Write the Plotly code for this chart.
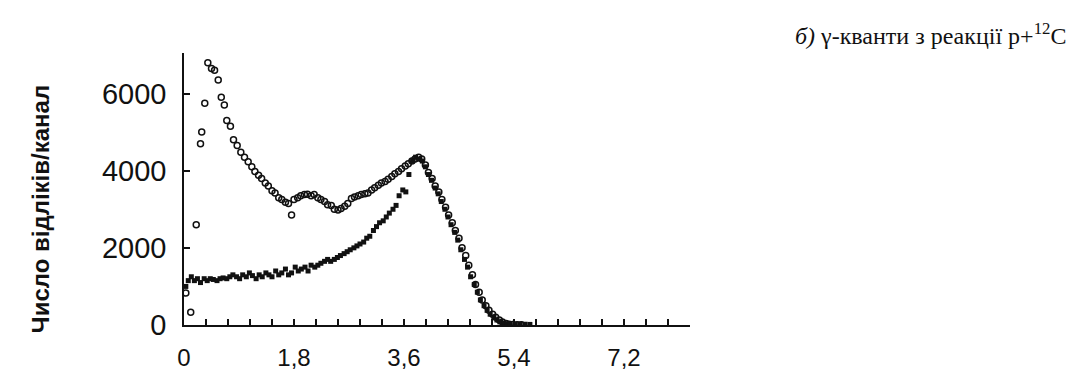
import plotly.graph_objects as go

# Open circles series (energy, MeV ; counts per channel)
open_e = [0.03, 0.11, 0.20, 0.27, 0.29, 0.34, 0.39, 0.45, 0.50, 0.56, 0.61, 0.66, 0.70, 0.76, 0.81,
          0.87, 0.93, 0.99, 1.05, 1.11, 1.16, 1.22, 1.27, 1.33, 1.38, 1.44, 1.49, 1.55, 1.60, 1.66,
          1.71, 1.76, 1.80, 1.86, 1.91, 1.97, 2.02, 2.08, 2.13, 2.19, 2.24, 2.30, 2.35, 2.41, 2.46,
          2.52, 2.57, 2.63, 2.68, 2.74, 2.79, 2.85, 2.90, 2.96, 3.01, 3.07, 3.12, 3.18, 3.23, 3.29,
          3.34, 3.40, 3.45, 3.51, 3.56, 3.62, 3.67, 3.73, 3.78, 3.84, 3.89, 3.95, 4.00, 4.06, 4.11,
          4.17, 4.22, 4.28, 4.33, 4.39, 4.44, 4.50, 4.55, 4.61, 4.66, 4.72, 4.77, 4.83, 4.88, 4.94,
          4.99, 5.05, 5.10, 5.16, 5.21, 5.27, 5.32, 5.38, 5.45, 5.52]
open_n = [830, 330, 2600, 4700, 5000, 5750, 6800, 6650, 6600, 6350, 5900, 5700, 5300, 5150, 4800,
          4650, 4480, 4350, 4230, 4100, 3980, 3880, 3800, 3680, 3600, 3480, 3420, 3300, 3250, 3180,
          3150, 2850, 3250, 3300, 3350, 3380, 3390, 3350, 3380, 3300, 3250, 3200, 3120, 3100, 3000,
          2980, 3020, 3080, 3150, 3280, 3320, 3350, 3380, 3400, 3420, 3500, 3560, 3620, 3680, 3720,
          3780, 3850, 3920, 3980, 4050, 4120, 4180, 4250, 4300, 4350, 4300, 4150, 3950, 3800, 3600,
          3450, 3250, 3050, 2850, 2650, 2450, 2250, 2000, 1800, 1550, 1300, 1050, 850, 650, 500,
          380, 280, 200, 130, 80, 40, 20, 10, 5, 5]

# Filled markers series
fill_e = [0.03, 0.07, 0.12, 0.17, 0.22, 0.27, 0.33, 0.38, 0.43, 0.48, 0.54, 0.59, 0.64, 0.70, 0.75,
          0.80, 0.86, 0.91, 0.96, 1.02, 1.07, 1.12, 1.18, 1.23, 1.28, 1.34, 1.39, 1.44, 1.50, 1.55,
          1.60, 1.66, 1.71, 1.76, 1.82, 1.87, 1.92, 1.98, 2.03, 2.08, 2.14, 2.19, 2.24, 2.30, 2.35,
          2.40, 2.46, 2.51, 2.56, 2.62, 2.67, 2.72, 2.78, 2.83, 2.88, 2.94, 2.99, 3.04, 3.10, 3.15,
          3.20, 3.26, 3.31, 3.36, 3.42, 3.47, 3.52, 3.58, 3.63, 3.68, 3.74, 3.79, 3.84, 3.90, 3.95,
          4.00, 4.05, 4.11, 4.16, 4.21, 4.27, 4.32, 4.37, 4.43, 4.48, 4.53, 4.59, 4.64, 4.69, 4.75,
          4.80, 4.85, 4.91, 4.96, 5.01, 5.07, 5.12, 5.17, 5.23, 5.28, 5.33, 5.42, 5.50, 5.58, 5.66]
fill_n = [1000, 1150, 1250, 1150, 1200, 1100, 1200, 1150, 1200, 1180, 1150, 1200, 1220, 1200, 1250,
          1300, 1250, 1200, 1300, 1250, 1350, 1280, 1200, 1300, 1250, 1350, 1300, 1250, 1400, 1300,
          1350, 1450, 1300, 1350, 1500, 1400, 1450, 1500, 1400, 1550, 1500, 1550, 1600, 1650, 1700,
          1650, 1700, 1750, 1800, 1850, 1900, 1950, 2000, 2050, 2100, 2150, 2250, 2300, 2450, 2550,
          2650, 2700, 2800, 2900, 3000, 3100, 3350, 3500, 3450, 3900, 4250, 4350, 4300, 4250, 4100,
          3900, 3750, 3550, 3400, 3200, 3000, 2800, 2600, 2400, 2200, 1950, 1700, 1500, 1250, 1050,
          850, 650, 500, 380, 280, 200, 130, 80, 50, 30, 20, 20, 25, 20, 15]

# x ticks every 0.36 MeV, labelled every 1.8 MeV
x_tick_vals = [0, 0.36, 0.72, 1.08, 1.44, 1.8, 2.16, 2.52, 2.88, 3.24, 3.6, 3.96, 4.32, 4.68,
               5.04, 5.4, 5.76, 6.12, 6.48, 6.84, 7.2, 7.56, 7.92]
x_tick_text = ["0", "", "", "", "", "1,8", "", "", "", "", "3,6", "", "", "", "", "5,4",
               "", "", "", "", "7,2", "", ""]
y_tick_vals = [0, 2000, 4000, 6000]
y_tick_text = ["0", "2000", "4000", "6000"]

title_text = "<i>б)</i> γ-кванти з реакції p+<sup>12</sup>C"
y_title = "<b>Число відліків/канал</b>"

fig = go.Figure()
fig.add_trace(go.Scatter(x=open_e, y=open_n, mode="markers",
                         marker=dict(symbol="circle-open", size=6, color="#111",
                                     line=dict(width=1.5, color="#111"))))
fig.add_trace(go.Scatter(x=fill_e, y=fill_n, mode="markers",
                         marker=dict(symbol="square", size=5, color="#111")))

fig.update_layout(
    width=1075, height=375,
    margin=dict(l=176, r=393, t=45, b=41),
    paper_bgcolor="white", plot_bgcolor="white",
    showlegend=False,
    xaxis=dict(range=[0, 8.28], tickvals=x_tick_vals, ticktext=x_tick_text,
               ticks="inside", ticklen=6, tickwidth=1.5, tickcolor="#111",
               showline=True, linecolor="#111", linewidth=1.5, showgrid=False, zeroline=False,
               tickfont=dict(family="Liberation Sans, Arial", size=24, color="#111"),
               ticklabelstandoff=10),
    yaxis=dict(range=[0, 7050], tickvals=y_tick_vals, ticktext=y_tick_text,
               ticks="inside", ticklen=6, tickwidth=1.5, tickcolor="#111",
               showline=True, linecolor="#111", linewidth=1.5, showgrid=False, zeroline=False,
               tickfont=dict(family="Liberation Sans, Arial", size=29, color="#111"),
               ticklabelstandoff=10),
    annotations=[
        dict(text=title_text, xref="paper", yref="paper", x=1.747, y=1.069,
             xanchor="right", yanchor="middle", showarrow=False,
             font=dict(family="Liberation Serif, Times New Roman", size=24, color="#111")),
        dict(text=y_title, xref="paper", yref="paper", x=-0.283, y=0.425,
             xanchor="center", yanchor="middle", textangle=-90, showarrow=False,
             font=dict(family="Liberation Sans, Arial", size=24, color="#111")),
    ],
)

fig.write_html("out.html")
